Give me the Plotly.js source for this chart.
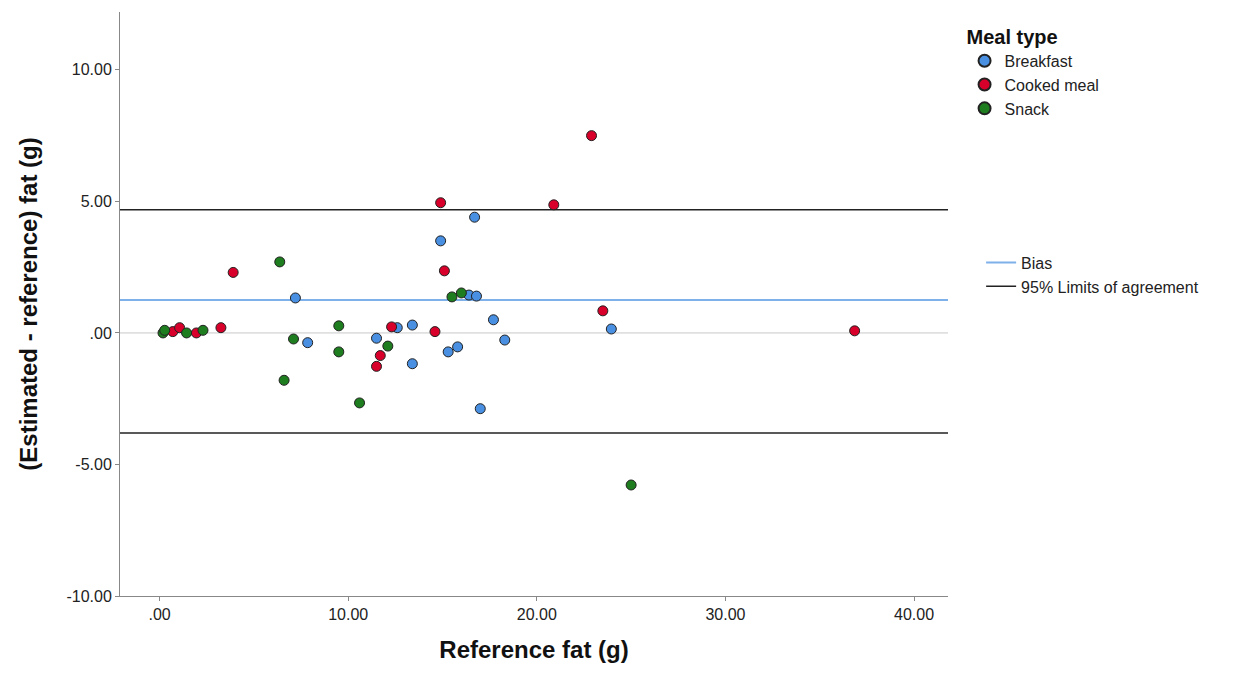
<!DOCTYPE html>
<html><head><meta charset="utf-8">
<script src="https://cdn.plot.ly/plotly-3.0.1.min.js"></script>
<style>body{margin:0;background:#fff}</style></head><body>
<div id="c" style="width:1253px;height:679px"></div>
<script>
const breakfastX=[7.2,7.85,11.5,12.6,13.4,13.4,14.9,16.7,16.4,16.8,17.7,23.95,18.3,15.8,15.3,17.0];
const breakfastY=[1.33,-0.37,-0.2,0.2,0.3,-1.17,3.5,4.4,1.44,1.4,0.5,0.15,-0.27,-0.53,-0.72,-2.88];
const cookedX=[0.7,1.06,1.95,3.25,3.9,12.3,11.7,11.5,14.6,14.9,20.9,15.1,23.5,22.9,36.85];
const cookedY=[0.05,0.2,0,0.2,2.3,0.23,-0.86,-1.27,0.05,4.95,4.87,2.36,0.84,7.5,0.08];
const snackX=[0.18,0.27,1.43,2.3,6.37,7.1,9.5,9.5,6.6,10.6,12.1,15.5,16.0,25.0];
const snackY=[0,0.1,0,0.1,2.7,-0.23,0.27,-0.72,-1.8,-2.66,-0.5,1.37,1.52,-5.78];
const bias=1.25, upperLoA=4.68, lowerLoA=-3.8;
const xRange=[-2.1,41.8], yRange=[-10,12.2];
const tickVals=[0,10,20,30,40], tickText=['.00','10.00','20.00','30.00','40.00'];
const yTickVals=[-10,-5,0,5,10], yTickText=['-10.00','-5.00','.00','5.00','10.00'];
const mk=c=>({size:10,color:c,line:{color:'#222',width:1}});
const traces=[
 {x:xRange,y:[0,0],mode:'lines',line:{color:'#c8c8c8',width:1},showlegend:false,hoverinfo:'skip'},
 {x:xRange,y:[bias,bias],mode:'lines',line:{color:'#7eb0ea',width:2},name:'Bias',legend:'legend2'},
 {x:xRange,y:[upperLoA,upperLoA],mode:'lines',line:{color:'#222',width:1.5},name:'95% Limits of agreement',legend:'legend2'},
 {x:xRange,y:[lowerLoA,lowerLoA],mode:'lines',line:{color:'#222',width:1.5},showlegend:false},
 {x:breakfastX,y:breakfastY,mode:'markers',marker:mk('#4a90e2'),name:'Breakfast'},
 {x:cookedX,y:cookedY,mode:'markers',marker:mk('#d8002a'),name:'Cooked meal'},
 {x:snackX,y:snackY,mode:'markers',marker:mk('#1e7d1e'),name:'Snack'}
];
const f={family:'Liberation Sans, Arial, sans-serif',size:16,color:'#222'};
Plotly.newPlot('c',traces,{
 width:1253,height:679,margin:{l:120,r:305,t:12,b:83},
 paper_bgcolor:'#fff',plot_bgcolor:'#fff',font:f,
 xaxis:{range:xRange,tickvals:tickVals,ticktext:tickText,showgrid:false,zeroline:false,showline:true,linecolor:'#888',ticks:'outside',ticklen:4,tickcolor:'#888',
  title:{text:'<b>Reference fat (g)</b>',font:{family:'Liberation Sans, Arial',size:24,color:'#111'},standoff:18}},
 yaxis:{range:yRange,tickvals:yTickVals,ticktext:yTickText,showgrid:false,zeroline:false,showline:true,linecolor:'#888',ticks:'outside',ticklen:4,tickcolor:'#888',
  title:{text:'<b>(Estimated - reference) fat (g)</b>',font:{family:'Liberation Sans, Arial',size:24,color:'#111'},standoff:22}},
 legend:{x:1.02,y:0.99,xanchor:'left',yanchor:'top',title:{text:'<b>Meal type</b>',font:{size:20,color:'#111'},side:'top'},font:{size:16},itemsizing:'constant',itemwidth:30,tracegroupgap:0},
 legend2:{x:1.04,y:0.6,xanchor:'left',yanchor:'top',font:{size:16},tracegroupgap:10}
},{displayModeBar:false});
</script></body></html>
